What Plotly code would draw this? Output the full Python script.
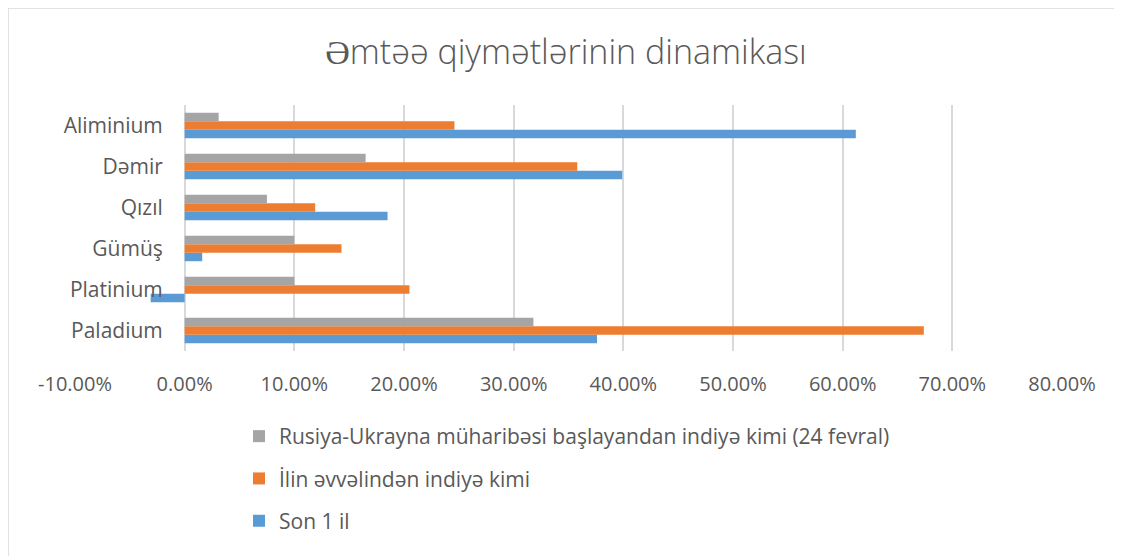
import plotly.graph_objects as go

categories = ["Paladium", "Platinium", "Gümüş", "Qızıl", "Dəmir", "Aliminium"]
son_1_il = [0.376, -0.031, 0.016, 0.185, 0.399, 0.612]
ilin_evvelinden = [0.674, 0.205, 0.143, 0.119, 0.358, 0.246]
muharibe = [0.318, 0.100, 0.100, 0.075, 0.165, 0.031]

x_tickvals = [-0.1, 0.0, 0.1, 0.2, 0.3, 0.4, 0.5, 0.6, 0.7, 0.8]
x_ticktext = ["-10.00%", "0.00%", "10.00%", "20.00%", "30.00%",
              "40.00%", "50.00%", "60.00%", "70.00%", "80.00%"]

names = [
    "Son 1 il",
    "İlin əvvəlindən indiyə kimi",
    "Rusiya-Ukrayna müharibəsi başlayandan indiyə kimi (24 fevral)",
]
colors = ["#5B9BD5", "#ED7D31", "#A5A5A5"]
series = [son_1_il, ilin_evvelinden, muharibe]
ranks = [3, 2, 1]

FONT = "Open Sans"
TXT = "#595959"

fig = go.Figure()
for i, (nm, vals, col, rk) in enumerate(zip(names, series, colors, ranks)):
    fig.add_trace(go.Bar(
        y=categories, x=vals, orientation="h", name=nm,
        marker=dict(color=col, line=dict(width=0)),
        legendgroup=f"g{i}", legendrank=rk,
    ))

# page is offset by the 8px body margin -> figure coords = page - 8
OFF = 8
W, H = 1122 - OFF, 556 - OFF
L = 75 - OFF
R = W - (1062 - OFF)
T = 105 - OFF
B = H - (351 - OFF)
pw = W - L - R
ph = H - T - B

def px_x(xp):
    return (xp - OFF - L) / pw

def px_y(yp):
    return (H - B - (yp - OFF)) / ph

fig.update_layout(
    width=W, height=H,
    margin=dict(l=L, r=R, t=T, b=B),
    paper_bgcolor="white", plot_bgcolor="white",
    barmode="group", bargap=0.38, bargroupgap=0,
    font=dict(family=FONT, color=TXT, size=20),
    title=dict(text="Əmtəə qiymətlərinin dinamikası", x=(566 - OFF) / W,
               xref="container", xanchor="center",
               y=1 - (52 - OFF) / H, yanchor="middle",
               font=dict(family=FONT, size=34, color=TXT, weight=300)),
    showlegend=True,
    legend=dict(traceorder="grouped", tracegroupgap=12,
                x=px_x(239), xanchor="left", y=px_y(416), yanchor="top",
                font=dict(family=FONT, size=21, color=TXT),
                itemwidth=30, bgcolor="rgba(0,0,0,0)"),
    xaxis=dict(range=[-0.1, 0.8], tickvals=x_tickvals, ticktext=x_ticktext,
               showgrid=True, gridcolor="#D9D9D9", gridwidth=1.5,
               zeroline=True, zerolinecolor="#D9D9D9", zerolinewidth=1.5,
               showline=False, ticks="outside", ticklen=15,
               tickcolor="rgba(0,0,0,0)", automargin=False,
               tickfont=dict(family=FONT, size=20, color=TXT)),
    yaxis=dict(anchor="free", position=px_x(185), showgrid=False,
               zeroline=False, showline=False, ticks="outside", ticklen=18,
               tickcolor="rgba(0,0,0,0)", automargin=False,
               tickfont=dict(family=FONT, size=21, color=TXT)),
    shapes=[
        dict(type="line", xref="paper", yref="paper",
             x0=px_x(8), x1=px_x(1122), y0=px_y(8), y1=px_y(8),
             line=dict(color="#D9D9D9", width=1.5)),
        dict(type="line", xref="paper", yref="paper",
             x0=px_x(8), x1=px_x(8), y0=px_y(8), y1=px_y(556),
             line=dict(color="#D9D9D9", width=1.5)),
    ],
)

fig.write_html("out.html")
